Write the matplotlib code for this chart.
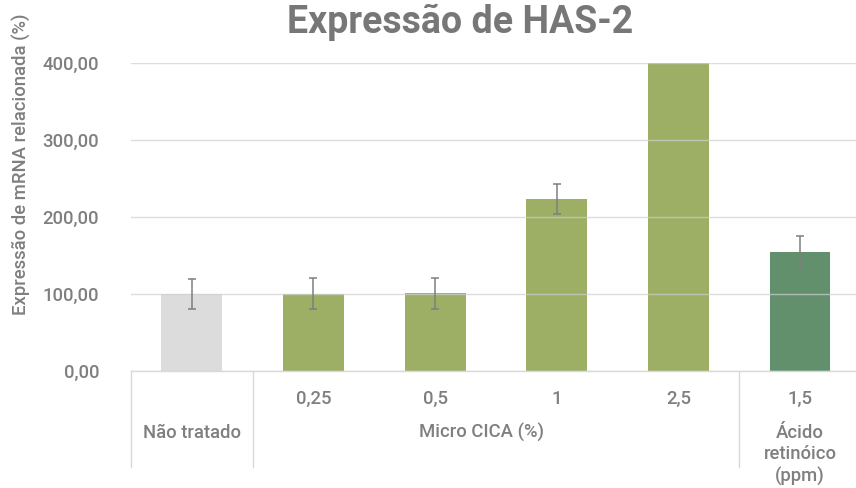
import matplotlib
matplotlib.use("Agg")
import matplotlib.pyplot as plt
import matplotlib.transforms as mtransforms

# Dados do gráfico
categorias = ["Não tratado", "0,25", "0,5", "1", "2,5", "1,5"]
grupos = ["Não tratado", "Micro CICA (%)", "Ácido\nretinóico\n(ppm)"]
expressao = [100.0, 100.5, 101.0, 223.4, 400.0, 155.0]
erro = [20.0, 20.0, 20.0, 20.0, 0.0, 20.0]
cores = ["#dcdcdc", "#9caf65", "#9caf65", "#9caf65", "#9caf65", "#62906d"]
yticks = [0, 100, 200, 300, 400]

plt.rcParams["font.family"] = ["Roboto", "DejaVu Sans"]
cinza = "#7f7f7f"
fs = 13.3

fig = plt.figure(figsize=(8.56, 4.88), dpi=100)
ax = fig.add_axes([131 / 856, 117 / 488, 725 / 856, 308 / 488])

x = list(range(len(categorias)))
ax.bar(x, expressao, width=0.5, color=cores, zorder=2)
for xi, v, e in zip(x, expressao, erro):
    if e > 0:
        ax.errorbar(xi, v, yerr=e, fmt="none", ecolor=cinza, elinewidth=1.1,
                    capsize=2.6, capthick=1.1, zorder=4)

ax.set_xlim(-0.5, 5.46)
ax.set_ylim(0, 400)
ax.set_yticks(yticks)
ax.set_yticklabels([f"{v:.2f}".replace(".", ",") for v in yticks],
                   fontsize=fs, color=cinza, fontweight="medium")
ax.tick_params(axis="y", length=0, pad=23)
ax.set_xticks([])

ax.grid(axis="y", color="#cfcfcf", linewidth=1.0, alpha=0.7, zorder=3)
ax.set_axisbelow(False)
for s in ["top", "right", "left"]:
    ax.spines[s].set_visible(False)
ax.spines["bottom"].set_color("#d9d9d9")
ax.spines["bottom"].set_linewidth(1.0)
ax.spines["bottom"].set_zorder(3)

# Eixo de categorias em dois níveis
trans = mtransforms.blended_transform_factory(ax.transData, ax.transAxes)
for xi, lab in zip(x[1:], categorias[1:]):
    ax.text(xi, -28 / 308, lab, transform=trans, ha="center", va="center",
            fontsize=fs, color=cinza, fontweight="medium")
ax.text(0, -62 / 308, grupos[0], transform=trans, ha="center", va="center",
        fontsize=fs, color=cinza, fontweight="medium")
ax.text(2.38, -62 / 308, grupos[1], transform=trans, ha="center", va="center",
        fontsize=fs, color=cinza, fontweight="medium")
ax.text(5, -84 / 308, grupos[2], transform=trans, ha="center", va="center",
        fontsize=fs, color=cinza, fontweight="medium", linespacing=1.25)
for xs in [-0.5, 0.5, 4.5]:
    ax.plot([xs, xs], [0, -96 / 308], transform=trans, color="#d9d9d9",
            linewidth=1.0, clip_on=False)

fig.text(460 / 856, 1 - 22 / 488, "Expressão de HAS-2", ha="center", va="center",
         fontsize=27, fontweight="bold", color="#777777")
fig.text(22 / 856, 1 - 164 / 488, "Expressão de mRNA relacionada (%)",
         rotation=90, ha="center", va="center", fontsize=fs, color=cinza,
         fontweight="medium")

fig.savefig("out.png", dpi=100)
